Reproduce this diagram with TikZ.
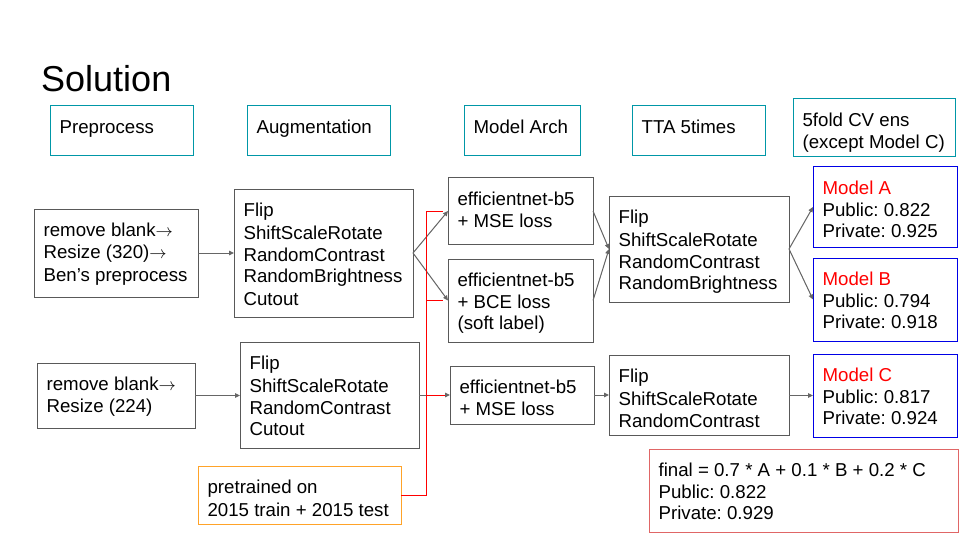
\documentclass[tikz,border=0pt]{standalone}
\usepackage{fontspec}
\setmainfont{Liberation Sans}
\usetikzlibrary{arrows.meta}
\frenchspacing
\definecolor{hdrteal}{RGB}{0,151,167}
\definecolor{boxgray}{RGB}{89,89,89}
\definecolor{arrgray}{RGB}{102,102,102}
\definecolor{modblue}{RGB}{0,0,230}
\definecolor{finred}{RGB}{224,102,102}
\definecolor{ptorange}{RGB}{255,163,41}
\newcommand\fsz{\fontsize{18.67}{21.5}\selectfont}
\newcommand\gs{\rule[-3.3pt]{0pt}{21.5pt}}
\newcommand\mynl{\\\gs}
\newcommand\bxt[3]{\parbox[c][#2pt][t]{\dimexpr#1pt-19.2pt\relax}{\frenchspacing\vspace*{9.6pt}\gs#3}}
\tikzset{
  base/.style={anchor=north west, inner xsep=9.6pt, inner ysep=0pt, outer sep=0pt, line width=1pt, font=\fsz, text=black},
  hdr/.style={base, draw=hdrteal},
  cbox/.style={base, draw=boxgray},
  mbox/.style={base, draw=modblue},
  fbox/.style={base, draw=finred},
  obox/.style={base, draw=ptorange},
  arr/.style={draw=arrgray, line width=1pt, -{Triangle[length=5pt,width=4.5pt]}, fill=arrgray},
  redln/.style={draw=red, line width=1pt, shorten >=5pt},
}
\begin{document}
\begin{tikzpicture}[x=1pt,y=-1pt]
\fill[white] (0,0) rectangle (960,540);
\useasboundingbox (0,0) rectangle (960,540);

\node[anchor=base west, inner sep=0pt, font=\fontsize{36}{40}\selectfont] (title) at (41,92) {Solution};

% headers
\node[hdr] (hPre)  at (50,106)  {\bxt{143}{50}{Preprocess}};
\node[hdr] (hAug)  at (247,106) {\bxt{143}{50}{Augmentation}};
\node[hdr] (hArch) at (464,106) {\bxt{116}{50}{Model Arch}};
\node[hdr] (hTTA)  at (632,106) {\bxt{133}{50}{TTA 5times}};
\node[hdr] (hCV)   at (793,99)  {\bxt{162}{58}{5fold CV ens\mynl (except Model C)}};

% row 1
\node[cbox] (pre1)  at (34,209)  {\bxt{164}{88}{remove blank$\rightarrow$\mynl Resize (320)$\rightarrow$\mynl Ben’s preprocess}};
\node[cbox] (aug1)  at (234,189) {\bxt{179}{128}{Flip\mynl ShiftScaleRotate\mynl RandomContrast\mynl RandomBrightness\mynl Cutout}};
\node[cbox] (arch1) at (448,178) {\bxt{145}{66}{efficientnet-b5\mynl + MSE loss}};
\node[cbox] (arch2) at (448,259) {\bxt{145}{83}{efficientnet-b5\mynl + BCE loss\mynl (soft label)}};
\node[cbox] (tta1)  at (609,196) {\bxt{180}{106}{Flip\mynl ShiftScaleRotate\mynl RandomContrast\mynl RandomBrightness}};
\node[mbox] (modA)  at (813,167) {\bxt{144}{80}{\textcolor{red}{Model A}\mynl Public: 0.822\mynl Private: 0.925}};
\node[mbox] (modB)  at (813,258) {\bxt{144}{83}{\textcolor{red}{Model B}\mynl Public: 0.794\mynl Private: 0.918}};

% row 2
\node[cbox] (pre2)  at (37,363)  {\bxt{158}{65}{remove blank$\rightarrow$\mynl Resize (224)}};
\node[cbox] (aug2)  at (240,342) {\bxt{179}{106}{Flip\mynl ShiftScaleRotate\mynl RandomContrast\mynl Cutout}};
\node[cbox] (arch3) at (450,366) {\bxt{144}{58}{efficientnet-b5\mynl + MSE loss}};
\node[cbox] (tta2)  at (609,355) {\bxt{180}{80}{Flip\mynl ShiftScaleRotate\mynl RandomContrast}};
\node[mbox] (modC)  at (813,354) {\bxt{144}{83}{\textcolor{red}{Model C}\mynl Public: 0.817\mynl Private: 0.924}};

\node[obox] (pt)    at (198,466) {\bxt{203}{58}{pretrained on\mynl 2015 train + 2015 test}};
\node[fbox] (fin)   at (649,449) {\bxt{309}{83}{final = 0.7 * A + 0.1 * B + 0.2 * C\mynl Public: 0.822\mynl Private: 0.929}};

% gray connectors
\draw[arr] (pre1.east) -- (pre1.east -| aug1.west);
\draw[arr] (aug1.east) -- (arch1.west);
\draw[arr] (aug1.east) -- (arch2.west);
\draw[arr] (arch1.east) -- (tta1.west);
\draw[arr] (arch2.east) -- (tta1.west);
\draw[arr] (tta1.east) -- (modA.west);
\draw[arr] (tta1.east) -- (modB.west);
\draw[arr] (pre2.east) -- (pre2.east -| aug2.west);
\draw[arr] (aug2.east) -- (aug2.east -| arch3.west);
\draw[arr] (arch3.east) -- (arch3.east -| tta2.west);
\draw[arr] (modC.west -| tta2.east) -- (modC.west);

% red connectors from pretrained
\coordinate (bus) at (426,300);
\draw[redln] (pt.east) -| (bus |- arch1.west) -- (arch1.west);
\draw[redln] (pt.east) -| (bus |- arch2.west) -- (arch2.west);
\draw[redln] (pt.east) -| (bus |- arch3.west) -- (arch3.west);
\end{tikzpicture}
\end{document}
